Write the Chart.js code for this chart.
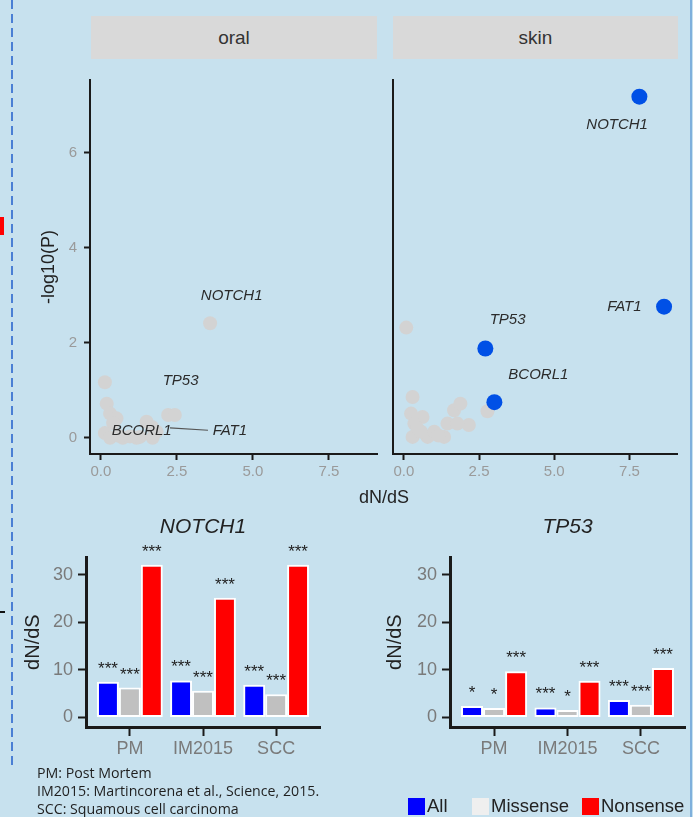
<!DOCTYPE html>
<html>
<head>
<meta charset="utf-8">
<script src="https://cdn.jsdelivr.net/npm/chart.js@4.4.1/dist/chart.umd.min.js"></script>
<style>
  body { margin: 0; width: 693px; height: 817px; background: #c7e1ee; position: relative; overflow: hidden;
         font-family: 'Liberation Sans', Arial, sans-serif; }
  canvas { position: absolute; }
  .strip { position: absolute; top: 16px; height: 43px; line-height: 43px; background: #d9d9d9;
           color: #333; font-size: 19px; text-align: center; }
  .note { position: absolute; left: 37px; font-family: 'Open Sans', sans-serif; font-size: 14.2px; line-height: 18px; color: #1f1f1f; white-space: nowrap; }
  .key { position: absolute; top: 798px; width: 17px; height: 17px; }
  .keytext { position: absolute; top: 795px; font-size: 18.5px; line-height: 22px; color: #222; }
</style>
</head>
<body>
<!-- side decorations from the slide -->
<div style="position:absolute;left:11px;top:0;width:2px;height:768px;background:repeating-linear-gradient(to bottom,#4a7fd4 0 9px,transparent 9px 14px)"></div>
<div style="position:absolute;left:0;top:217px;width:4px;height:18px;background:#f00"></div>
<div style="position:absolute;left:0;top:611px;width:5px;height:2px;background:#111"></div>
<div style="position:absolute;left:690px;top:0;width:2px;height:817px;background:#7fb0dc"></div>

<div class="strip" style="left:91px;width:286px">oral</div>
<div class="strip" style="left:393px;width:285px">skin</div>

<canvas id="oral" width="385" height="450" style="left:0;top:60px"></canvas>
<canvas id="skin" width="300" height="450" style="left:385px;top:60px"></canvas>
<div style="position:absolute;left:334px;width:100px;top:487px;text-align:center;font-size:18px;color:#222">dN/dS</div>

<canvas id="notch" width="330" height="265" style="left:0;top:500px"></canvas>
<canvas id="tp53" width="328" height="265" style="left:365px;top:500px"></canvas>

<div class="note" style="top:764px">PM: Post Mortem</div>
<div class="note" style="top:782px">IM2015: Martincorena et al., Science, 2015.</div>
<div class="note" style="top:800px">SCC: Squamous cell carcinoma</div>

<div id="legend"></div>

<script>
// ---- scatter panels (dN/dS vs -log10 P) ----
const xTicks = [0, 2.5, 5, 7.5];
const yTicks = [0, 2, 4, 6];

const oralGreyX = [3.59, 0.13, 0.19, 0.30, 0.51, 0.40, 0.13, 0.30, 0.72, 1.17, 1.28, 1.50, 1.68, 1.83, 1.70, 2.21, 2.43, 0.55, 0.95];
const oralGreyY = [2.41, 1.17, 0.72, 0.51, 0.41, 0.31, 0.10, 0.00, 0.00, 0.00, 0.02, 0.34, 0.23, 0.13, 0.00, 0.48, 0.48, 0.05, 0.03];
const oralGenes = ['NOTCH1', 'TP53', 'BCORL1', 'FAT1'];
const oralLabelX = [4.30, 2.62, 1.34, 4.24];
const oralLabelY = [2.98, 1.21, 0.14, 0.14];
const oralLinks = [[2.27, 0.21, 3.52, 0.16]];

const skinGreyX = [0.08, 2.78, 0.29, 0.24, 0.62, 0.35, 0.29, 0.79, 1.34, 1.45, 1.67, 1.88, 2.16, 1.78, 1.01, 0.57, 0.45, 1.15];
const skinGreyY = [2.32, 0.56, 0.86, 0.51, 0.44, 0.30, 0.02, 0.02, 0.02, 0.30, 0.58, 0.72, 0.27, 0.30, 0.13, 0.13, 0.20, 0.05];
const skinGenes = ['NOTCH1', 'FAT1', 'TP53', 'BCORL1'];
const skinHitX = [7.83, 8.65, 2.71, 3.01];
const skinHitY = [7.18, 2.76, 1.88, 0.75];
const skinLabelX = [7.09, 7.33, 3.45, 4.47];
const skinLabelY = [6.58, 2.76, 2.48, 1.33];

// ---- bar panels ----
const groups = ['PM', 'IM2015', 'SCC'];
const seriesNames = ['All', 'Missense', 'Nonsense'];
const notchAll = [7.5, 7.8, 6.9];
const notchMissense = [6.3, 5.6, 4.9];
const notchNonsense = [32.1, 25.2, 32.1];
const notchStars = [['***', '***', '***'], ['***', '***', '***'], ['***', '***', '***']];
const tp53All = [2.4, 2.1, 3.7];
const tp53Missense = [2.0, 1.6, 2.7];
const tp53Nonsense = [9.7, 7.7, 10.4];
const tp53Stars = [['*', '***', '***'], ['*', '*', '***'], ['***', '***', '***']];
const barTicks = [0, 10, 20, 30];

const barColors = ['#0000ff', '#c0c0c0', '#ff0000'];
const legendColors = ['#0000ff', '#efefef', '#ff0000'];
const legendLeft = [408, 472, 582];

Chart.defaults.font.family = '"Liberation Sans", Arial, sans-serif';

const pts = (xs, ys) => xs.map((x, i) => ({ x, y: ys[i] }));

// gene names next to points, plus the odd repel segment
const geneLabels = {
    id: 'geneLabels',
    afterDatasetsDraw(chart, args, opts) {
        const { ctx, scales: { x, y } } = chart;
        ctx.save();
        ctx.strokeStyle = '#555';
        ctx.lineWidth = 1.2;
        (opts.links || []).forEach(l => {
            ctx.beginPath();
            ctx.moveTo(x.getPixelForValue(l[0]), y.getPixelForValue(l[1]));
            ctx.lineTo(x.getPixelForValue(l[2]), y.getPixelForValue(l[3]));
            ctx.stroke();
        });
        ctx.font = 'italic 15px "Liberation Sans", Arial, sans-serif';
        ctx.fillStyle = '#2b2b2b';
        ctx.textAlign = 'center';
        ctx.textBaseline = 'middle';
        opts.text.forEach((t, i) => ctx.fillText(t, x.getPixelForValue(opts.x[i]), y.getPixelForValue(opts.y[i])));
        ctx.restore();
    }
};

// significance stars above bars
const starMarks = {
    id: 'stars',
    afterDatasetsDraw(chart, args, opts) {
        const ctx = chart.ctx;
        ctx.save();
        ctx.font = '17px "Liberation Sans", Arial, sans-serif';
        ctx.fillStyle = '#222';
        ctx.textAlign = 'center';
        opts.marks.forEach((row, di) => {
            chart.getDatasetMeta(di).data.forEach((bar, i) => ctx.fillText(row[i], bar.x, bar.y - 8));
        });
        ctx.restore();
    }
};

const axisLine = { display: true, color: '#1a1a1a', width: 2 };

function scatterChart(id, datasets, labels, showY, pad, yWidth) {
    return new Chart(document.getElementById(id), {
        type: 'scatter',
        data: { datasets },
        options: {
            responsive: false,
            animation: false,
            layout: { padding: pad },
            plugins: { legend: { display: false }, tooltip: { enabled: false }, geneLabels: labels },
            scales: {
                x: {
                    type: 'linear', min: -0.36, max: 9.08,
                    afterBuildTicks: s => { s.ticks = xTicks.map(v => ({ value: v })); },
                    afterFit: s => { s.height = 56; },
                    border: axisLine,
                    grid: { drawOnChartArea: false, drawTicks: true, tickLength: 6, tickColor: '#1a1a1a', tickWidth: 2 },
                    ticks: { color: '#9a9a9a', font: { size: 15 }, padding: 3, maxRotation: 0, autoSkip: false,
                             callback: v => v.toFixed(1) }
                },
                y: {
                    min: -0.34, max: 7.53,
                    afterBuildTicks: s => { s.ticks = yTicks.map(v => ({ value: v })); },
                    afterFit: s => { s.width = yWidth; },
                    border: axisLine,
                    title: { display: showY, text: '-log10(P)', color: '#222', font: { size: 18 }, padding: { top: 4, bottom: 0 } },
                    grid: { drawOnChartArea: false, drawTicks: showY, tickLength: 6, tickColor: '#1a1a1a', tickWidth: 2 },
                    ticks: { display: showY, color: '#9a9a9a', font: { size: 15 }, padding: 7 }
                }
            }
        },
        plugins: [geneLabels]
    });
}

scatterChart('oral', [
    { data: pts(oralGreyX, oralGreyY), pointRadius: 7, backgroundColor: '#d3d3d3', borderWidth: 0, clip: false }
], { text: oralGenes, x: oralLabelX, y: oralLabelY, links: oralLinks }, true,
   { left: 34, right: 8, top: 20, bottom: 0 }, 56);

scatterChart('skin', [
    { data: pts(skinHitX, skinHitY), pointRadius: 8, backgroundColor: '#0050e6', borderWidth: 0, order: 0, clip: false },
    { data: pts(skinGreyX, skinGreyY), pointRadius: 7, backgroundColor: '#d3d3d3', borderWidth: 0, order: 1, clip: false }
], { text: skinGenes, x: skinLabelX, y: skinLabelY }, false,
   { left: 0, right: 7, top: 20, bottom: 0 }, 5);

function barChart(id, title, series, stars, pad, yWidth) {
    const barAxis = { display: true, color: '#1a1a1a', width: 3 };
    return new Chart(document.getElementById(id), {
        type: 'bar',
        data: {
            datasets: series.map((vals, k) => ({
                label: seriesNames[k],
                data: vals.map((v, i) => ({ x: i, y: v })),
                backgroundColor: barColors[k],
                borderColor: '#ffffff',
                borderWidth: 2,
                borderSkipped: false,
                categoryPercentage: 0.9,
                barPercentage: 1
            }))
        },
        options: {
            responsive: false,
            animation: false,
            layout: { padding: pad },
            plugins: {
                legend: { display: false },
                tooltip: { enabled: false },
                title: { display: true, text: title, fullSize: false, color: '#222',
                         font: { size: 21, style: 'italic', weight: 'normal' }, padding: { top: 15, bottom: 17 } },
                stars: { marks: stars }
            },
            scales: {
                x: {
                    type: 'linear', min: -0.6, max: 2.6, offset: false,
                    afterBuildTicks: s => { s.ticks = groups.map((g, i) => ({ value: i })); },
                    afterFit: s => { s.height = 38; },
                    border: barAxis,
                    grid: { offset: false, drawOnChartArea: false, drawTicks: true, tickLength: 9, tickColor: '#1a1a1a', tickWidth: 2 },
                    ticks: { color: '#7a7a7a', font: { size: 18 }, padding: 2, maxRotation: 0, autoSkip: false,
                             callback: v => groups[v] }
                },
                y: {
                    min: -2, max: 33.7,
                    afterBuildTicks: s => { s.ticks = barTicks.map(v => ({ value: v })); },
                    afterFit: s => { s.width = yWidth; },
                    border: barAxis,
                    title: { display: true, text: 'dN/dS', color: '#222', font: { size: 20 }, padding: { top: 4, bottom: 0 } },
                    grid: { drawOnChartArea: false, drawTicks: true, tickLength: 8, tickColor: '#1a1a1a', tickWidth: 2 },
                    ticks: { color: '#7a7a7a', font: { size: 18 }, padding: 5 }
                }
            }
        },
        plugins: [starMarks]
    });
}

barChart('notch', 'NOTCH1', [notchAll, notchMissense, notchNonsense], notchStars,
         { left: 17, right: 10, top: 0, bottom: 0 }, 69);
barChart('tp53', 'TP53', [tp53All, tp53Missense, tp53Nonsense], tp53Stars,
         { left: 14, right: 8, top: 0, bottom: 0 }, 71);

// legend under the TP53 panel
const legend = document.getElementById('legend');
seriesNames.forEach((name, k) => {
    legend.innerHTML += `<div class="key" style="left:${legendLeft[k]}px;background:${legendColors[k]}"></div>` +
                        `<div class="keytext" style="left:${legendLeft[k] + 19}px">${name}</div>`;
});
</script>
</body>
</html>
